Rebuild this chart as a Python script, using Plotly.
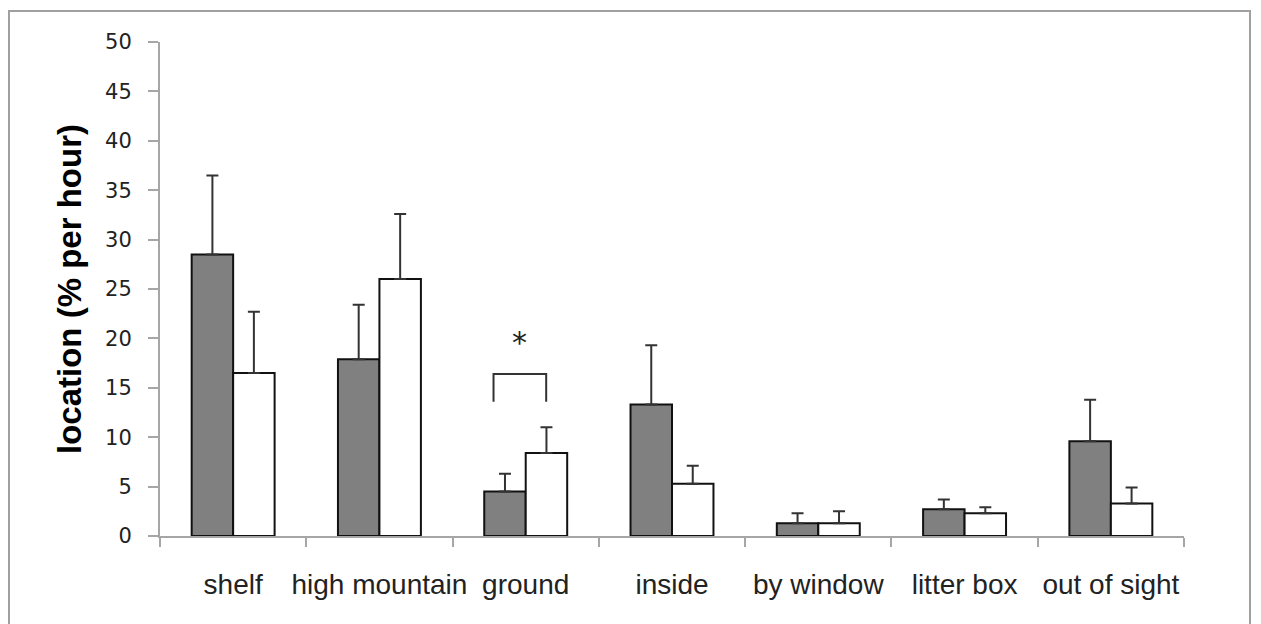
import plotly.graph_objects as go

categories = ["shelf", "high mountain", "ground", "inside", "by window", "litter box", "out of sight"]
dark_values = [28.5, 17.9, 4.5, 13.3, 1.3, 2.7, 9.6]
dark_errors = [8.0, 5.5, 1.8, 6.0, 1.0, 1.0, 4.2]
white_values = [16.5, 26.0, 8.4, 5.3, 1.3, 2.3, 3.3]
white_errors = [6.2, 6.6, 2.6, 1.8, 1.2, 0.6, 1.6]
y_ticks = [0, 5, 10, 15, 20, 25, 30, 35, 40, 45, 50]

# significance bracket (data units) over "ground"
bracket_x = [1.78, 2.14]
bracket_y = [13.6, 16.4]
star_pos = (1.96, 19.6)

# the page puts the figure 8px in from the top-left corner
W, H = 1253, 616
L, R, T, B = 152, 77, 34, 88
pw, ph = W - L - R, H - T - B

def px_x(p):
    return (p - 8 - L) / pw

def px_y(p):
    return (H - B - (p - 8)) / ph

err_style = dict(type="data", symmetric=False, color="#333333", thickness=2, width=6)

fig = go.Figure()
fig.add_trace(go.Bar(
    x=categories, y=dark_values, name="dark",
    marker=dict(color="#808080", line=dict(color="#111111", width=2)),
    error_y=dict(array=dark_errors, arrayminus=[0] * len(dark_errors), **err_style),
))
fig.add_trace(go.Bar(
    x=categories, y=white_values, name="white",
    marker=dict(color="#ffffff", line=dict(color="#111111", width=2)),
    error_y=dict(array=white_errors, arrayminus=[0] * len(white_errors), **err_style),
))

fig.update_layout(
    width=W, height=H,
    margin=dict(l=L, r=R, t=T, b=B, autoexpand=False),
    paper_bgcolor="white", plot_bgcolor="white",
    barmode="group", bargap=0.433, bargroupgap=0,
    showlegend=False,
    font=dict(family="Liberation Sans, Arial, sans-serif", color="#222222"),
)
fig.update_xaxes(
    type="category", range=[-0.5, 6.5],
    showline=True, linecolor="#a6a6a6", linewidth=2,
    ticks="outside", tickson="boundaries", ticklen=9, tickwidth=2, tickcolor="#a6a6a6",
    tickangle=0, ticklabelstandoff=22,
    tickfont=dict(family="Liberation Sans, Arial, sans-serif", size=28, color="#222222"),
    showgrid=False, zeroline=False, automargin=False,
)
fig.update_yaxes(
    range=[0, 50], tickvals=y_ticks, ticktext=[str(v) for v in y_ticks],
    showline=True, linecolor="#a6a6a6", linewidth=2,
    ticks="outside", ticklen=10, tickwidth=2, tickcolor="#a6a6a6",
    ticklabelstandoff=12,
    tickfont=dict(family="DejaVu Sans, Verdana, sans-serif", size=21, color="#222222"),
    showgrid=False, zeroline=False, automargin=False,
    title=dict(text="location (% per hour)", standoff=14,
               font=dict(family="Liberation Sans, Arial, sans-serif", size=33, color="#000000", weight="bold")),
)

# outer chart border
fig.add_shape(type="rect", xref="paper", yref="paper",
              x0=px_x(9), x1=px_x(1250), y0=px_y(640), y1=px_y(11),
              line=dict(color="#a0a0a0", width=2), fillcolor="rgba(0,0,0,0)", layer="below")

# significance bracket
fig.add_shape(type="path", xref="x", yref="y",
              path=f"M {bracket_x[0]} {bracket_y[0]} L {bracket_x[0]} {bracket_y[1]} L {bracket_x[1]} {bracket_y[1]} L {bracket_x[1]} {bracket_y[0]}",
              line=dict(color="#333333", width=2))
fig.add_annotation(x=star_pos[0], y=star_pos[1], xref="x", yref="y", text="*",
                   showarrow=False, font=dict(family="DejaVu Sans, sans-serif", size=30, color="#222222"))

fig.write_html("out.html")
